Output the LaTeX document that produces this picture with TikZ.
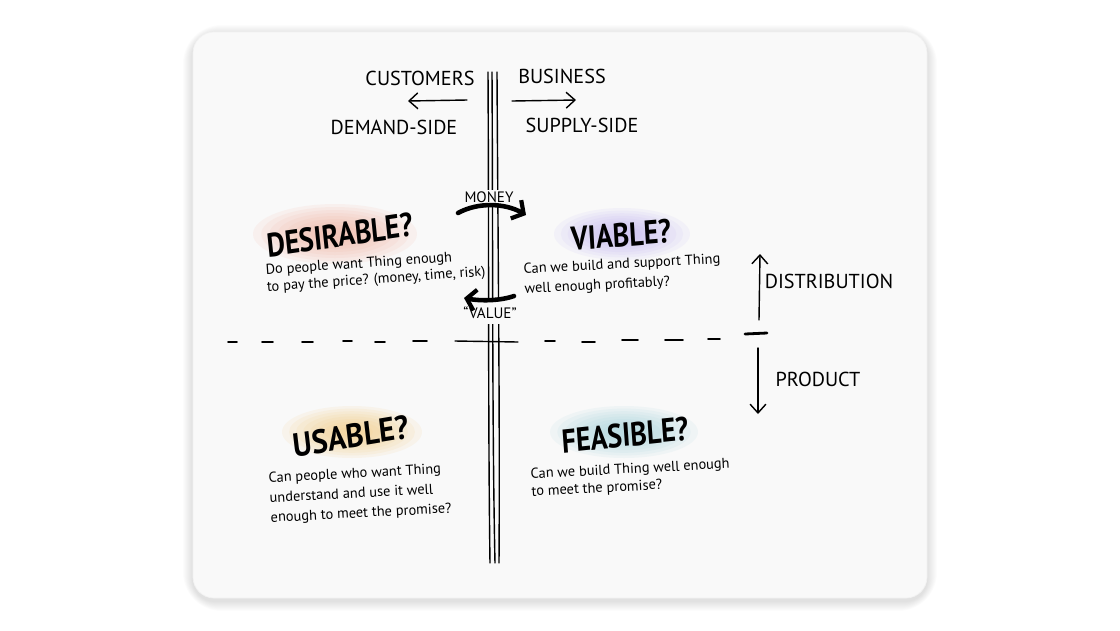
\documentclass[tikz,border=0pt]{standalone}
\usepackage{fontspec}
\setmainfont{PT Sans}
\usetikzlibrary{arrows.meta}

\begin{document}
\begin{tikzpicture}[x=0.02cm, y=-0.02cm,
  pen/.style={draw=black, line width=0.8pt, line cap=round, line join=round},
  penarrow/.style={pen, -{Straight Barb[length=5pt, width=9pt]}},
  brush/.style={draw=black, line width=2.6pt, line cap=round, -{Straight Barb[length=5pt, width=12pt, line width=2.4pt]}},
  caps/.style={font=\fontsize{11.5}{12}\selectfont, inner sep=1pt},
  tiny/.style={font=\fontsize{8.6}{9}\selectfont, inner sep=1pt, fill=cardbg},
  heading/.style={font=\fontsize{19}{19}\selectfont\bfseries, xscale=0.84, inner sep=1pt},
  note/.style={font=\fontsize{8.2}{11.3}\selectfont, align=left, inner sep=0pt, anchor=north west}]
\definecolor{cardbg}{HTML}{F9F9F9}
\definecolor{glowred}{HTML}{F2AE9C}
\definecolor{glowpurple}{HTML}{C2B2F2}
\definecolor{gloworange}{HTML}{F4CA7C}
\definecolor{glowteal}{HTML}{9FD2DB}
\useasboundingbox[fill=white] (0,0) rectangle (1120,630);
% card and its shadow
\foreach \s in {1,...,10} \fill[black, opacity=0.01, rounded corners=12+\s] (193-\s,35-\s) rectangle (927+\s,601+\s);
\fill[cardbg, draw=black!5, rounded corners=12] (193,32) rectangle (927,598);
% glows behind the headings
\foreach \cx/\cy/\rx/\ry/\col in {335/234/82/30/glowred, 622/234/68/26/glowpurple, 352/432/70/26/gloworange, 624/432/74/26/glowteal}
  \foreach \f in {1.0,0.9,...,0.15} \fill[\col, opacity=0.11] (\cx,\cy) ellipse [x radius=\f*\rx*0.02cm, y radius=\f*\ry*0.02cm];
% the divide
\draw[pen] (488,72) .. controls (489,250) and (488,420) .. (490,563);
\draw[pen] (492,72) .. controls (493,250) and (492,420) .. (495,563);
\draw[pen] (497,72) .. controls (498,250) and (500,420) .. (499,563);
\fill[cardbg] (478,298) rectangle (508,324);
\draw[pen] (455,341) -- (518,342);
\foreach \a/\b/\y in {228/237/342, 262/273/342, 302/313/342, 343/352/341, 375/385/342, 413/427/341, 545/555/341, 582/595/342, 622/638/340, 665/683/340, 708/720/339}
  \draw[pen, line width=1.1pt] (\a,\y) -- (\b,\y);
\draw[pen, line width=1.6pt] (745,334) -- (767,333);
% top labels
\node[caps] (customers) at (420,78) {CUSTOMERS};
\node[caps] (business) at (562,76) {BUSINESS};
\node[caps] (demand) at (394,127) {DEMAND-SIDE};
\node[caps] (supply) at (582,125) {SUPPLY-SIDE};
\coordinate (demandarrow) at (408,101);
\coordinate (supplyarrow) at (576,100);
\draw[penarrow] (467,100) -- (demandarrow);
\draw[penarrow] (512,101) -- (supplyarrow);
% money and value
\node[tiny] (money) at (489,197) {MONEY};
\node[tiny] (value) at (490,313) {``VALUE''};
\coordinate (moneystart) at (458,213);
\coordinate (moneyend) at (526,215);
\coordinate (valuestart) at (514,296);
\coordinate (valueend) at (464,298);
\draw[brush] (moneystart) .. controls (478,202) and (505,203) .. (moneyend);
\draw[brush] (valuestart) .. controls (500,301) and (480,301) .. (valueend);
% quadrants
\node[heading, rotate=7] (desirable) at (340,235) {DESIRABLE?};
\node[note, rotate=4, font=\fontsize{8.2}{9.6}\selectfont] (desirabletext) at (265,264) {Do people want Thing enough\\to pay the price? (money, time, risk)};
\node[heading, rotate=4] (viable) at (621,235) {VIABLE?};
\node[note, rotate=3] (viabletext) at (523,263) {Can we build and support Thing\\well enough profitably?};
\node[heading, rotate=8, xscale=1.08] (usable) at (351,436) {USABLE?};
\node[note, rotate=3] (usabletext) at (268,472) {Can people who want Thing\\understand and use it well\\enough to meet the promise?};
\node[heading, rotate=5] (feasible) at (625,435) {FEASIBLE?};
\node[note, rotate=3, font=\fontsize{8.2}{10}\selectfont] (feasibletext) at (530,468) {Can we build Thing well enough\\to meet the promise?};
% distribution and product
\coordinate (distributiontop) at (760,254);
\coordinate (producttip) at (758,414);
\draw[penarrow] (759,320) -- (distributiontop);
\draw[penarrow] (758,348) -- (producttip);
\node[caps] (distribution) at (829,281) {DISTRIBUTION};
\node[caps] (product) at (818,379) {PRODUCT};
\end{tikzpicture}
\end{document}
